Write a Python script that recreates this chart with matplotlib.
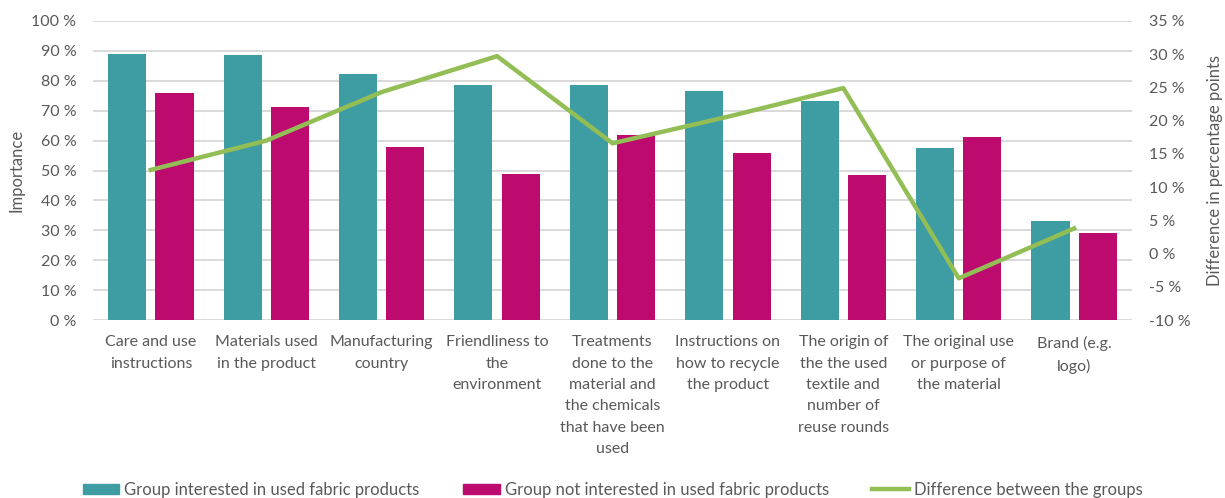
import matplotlib.pyplot as plt
import numpy as np
from matplotlib.patches import Patch
from matplotlib.lines import Line2D
from matplotlib.ticker import FuncFormatter

plt.rcParams['font.family'] = ['Lato', 'DejaVu Sans']

categories = [
    "Care and use\ninstructions",
    "Materials used\nin the product",
    "Manufacturing\ncountry",
    "Friendliness to\nthe\nenvironment",
    "Treatments\ndone to the\nmaterial and\nthe chemicals\nthat have been\nused",
    "Instructions on\nhow to recycle\nthe product",
    "The origin of\nthe the used\ntextile and\nnumber of\nreuse rounds",
    "The original use\nor purpose of\nthe material",
    "Brand (e.g.\nlogo)",
]

# %
interested = [89.1, 88.5, 82.4, 78.6, 78.6, 76.7, 73.2, 57.6, 33.1]
not_interested = [76.0, 71.3, 57.9, 49.0, 61.8, 55.9, 48.4, 61.1, 29.0]
# percentage points
difference = [12.6, 17.0, 24.3, 29.7, 16.6, 20.6, 24.9, -3.7, 3.8]

teal = '#3E9CA3'
magenta = '#BC0A6F'
green = '#93BE55'
txt = '#595959'

fig = plt.figure(figsize=(12.25, 4.98), dpi=100)
ax = fig.add_axes([0.076, 0.357, 0.848, 0.601])
x = np.arange(len(categories))
w = 0.33
ax.bar(x - 0.205, interested, width=w, color=teal, zorder=3)
ax.bar(x + 0.205, not_interested, width=w, color=magenta, zorder=3)
ax.set_ylim(0, 100)
ax.set_yticks(np.arange(0, 101, 10))
ax.yaxis.set_major_formatter(FuncFormatter(lambda v, p: f"{v:.0f} %"))
ax.set_xlim(-0.5, len(categories) - 0.5)
ax.set_xticks(x)
ax.set_xticklabels(categories, fontsize=11.5, color=txt, linespacing=1.66)
ax.grid(axis='y', color='#D9D9D9', linewidth=1.4, zorder=0)
ax.set_ylabel("Importance", fontsize=12, color=txt, labelpad=5)
for s in ax.spines.values():
    s.set_visible(False)
ax.tick_params(length=0, colors=txt, labelsize=11.5, pad=12)
ax.tick_params(axis='x', pad=11)

ax2 = ax.twinx()
ax2.plot(x, difference, color=green, linewidth=3.2, zorder=4)
ax2.set_ylim(-10, 35)
ax2.set_yticks(np.arange(-10, 36, 5))
ax2.yaxis.set_major_formatter(FuncFormatter(lambda v, p: f"{v:.0f} %"))
ax2.set_ylabel("Difference in percentage points", fontsize=12, color=txt, labelpad=12)
for s in ax2.spines.values():
    s.set_visible(False)
ax2.tick_params(length=0, colors=txt, labelsize=11.5, pad=12)

handles = [
    Patch(color=teal, label="Group interested in used fabric products"),
    Patch(color=magenta, label="Group not interested in used fabric products"),
    Line2D([], [], color=green, linewidth=3.2, label="Difference between the groups"),
]
fig.legend(handles=handles, loc='center', bbox_to_anchor=(0.5, 0.016), ncol=3,
           frameon=False, fontsize=12, labelcolor=txt, handlelength=2.2,
           handleheight=0.6, handletextpad=0.3, columnspacing=2.6)

fig.savefig('out.png', dpi=100)
